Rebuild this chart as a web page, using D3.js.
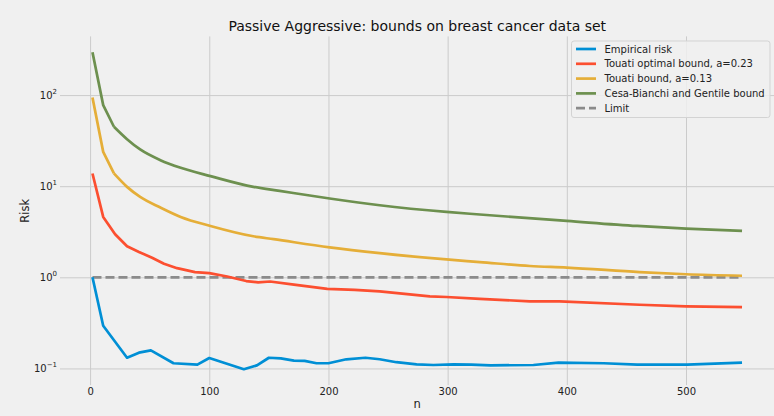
<!DOCTYPE html>
<html>
<head>
<meta charset="utf-8">
<script src="https://cdn.jsdelivr.net/npm/d3@7"></script>
<style>
  body { margin: 0; background: #f0f0f0; }
  text { font-family: "DejaVu Sans", sans-serif; }
</style>
</head>
<body>
<div id="chart"></div>
<script>
// chart data
var nEmpirical = [2, 11, 31, 41, 51, 70, 90, 100, 129, 140, 150, 160, 171, 180, 190, 200, 215, 231, 243, 257, 274, 288, 305, 320, 336, 372, 393, 431, 459, 501, 547];
var empirical = [1.0, 0.294, 0.131, 0.149, 0.158, 0.114, 0.110, 0.130, 0.098, 0.108, 0.131, 0.129, 0.122, 0.121, 0.114, 0.114, 0.126, 0.131, 0.126, 0.117, 0.111, 0.109, 0.111, 0.110, 0.108, 0.109, 0.116, 0.114, 0.110, 0.110, 0.116];

var nOptimal = [2, 11, 21, 31, 41, 52, 62, 73, 88, 100, 115, 131, 141, 151, 171, 199, 222, 243, 285, 299, 327, 369, 394, 461, 500, 547];
var optimal = [13.8, 4.60, 2.97, 2.19, 1.90, 1.64, 1.41, 1.26, 1.14, 1.11, 1.02, 0.91, 0.88, 0.90, 0.83, 0.745, 0.728, 0.70, 0.618, 0.608, 0.58, 0.545, 0.545, 0.50, 0.48, 0.47];

var nBound = [2, 11, 20, 31, 42, 59, 76, 101, 137, 154, 201, 243, 299, 327, 369, 400, 461, 500, 547];
var bound = [94, 23.8, 13.8, 9.83, 7.63, 5.83, 4.60, 3.66, 2.82, 2.62, 2.13, 1.84, 1.57, 1.47, 1.33, 1.28, 1.14, 1.08, 1.04];

var nCesa = [2, 11, 20, 31, 42, 59, 76, 101, 137, 159, 201, 243, 299, 327, 400, 459, 500, 547];
var cesa = [295, 77.6, 44.9, 32.8, 25.3, 19.3, 15.9, 12.9, 9.83, 8.88, 7.33, 6.18, 5.22, 4.89, 4.16, 3.66, 3.43, 3.23];

var nLimit = [2, 547];
var limit = [1, 1];

var xTicks = [0, 100, 200, 300, 400, 500];
var yTickExp = [-1, 0, 1, 2];

var labels = ['Empirical risk', 'Touati optimal bound, a=0.23', 'Touati bound, a=0.13', 'Cesa-Bianchi and Gentile bound', 'Limit'];

// svg sizes
var svgWidth = 774;
var svgHeight = 416;
var plot = { left: 60, right: 774.5, top: 36.4, bottom: 385.1 };

var svg = d3.select('#chart').append('svg')
  .attr('width', svgWidth)
  .attr('height', svgHeight);

svg.append('rect')
  .attr('width', svgWidth)
  .attr('height', svgHeight)
  .attr('fill', '#f0f0f0');

// scales
var xScale = d3.scaleLinear()
  .domain([-25.25, 574.25])
  .range([plot.left, plot.right]);

var yScale = d3.scaleLog()
  .domain([Math.pow(10, -1.183), Math.pow(10, 2.644)])
  .range([plot.bottom, plot.top]);

// grid
var xGrid = svg.append('g')
  .attr('transform', `translate(0, ${plot.bottom})`)
  .call(d3.axisBottom(xScale).tickValues(xTicks).tickSize(-(plot.bottom - plot.top)).tickFormat(''));
var yGrid = svg.append('g')
  .attr('transform', `translate(${plot.left}, 0)`)
  .call(d3.axisLeft(yScale).tickValues(yTickExp.map(e => Math.pow(10, e))).tickSize(-(plot.right - plot.left)).tickFormat(''));
svg.selectAll('.domain').remove();
svg.selectAll('.tick line').attr('stroke', '#cbcbcb').attr('stroke-width', 1);

// tick labels
var xAxis = svg.append('g')
  .attr('transform', `translate(0, ${plot.bottom})`)
  .call(d3.axisBottom(xScale).tickValues(xTicks).tickSize(0).tickPadding(3));
xAxis.select('.domain').remove();
xAxis.selectAll('text').attr('font-size', '10px').attr('fill', '#222').attr('font-family', 'DejaVu Sans');

var yLabels = svg.append('g');
yTickExp.forEach(function(e) {
  var t = yLabels.append('text')
    .attr('x', 57)
    .attr('y', yScale(Math.pow(10, e)) + 3.5)
    .attr('text-anchor', 'end')
    .attr('font-size', '10px')
    .attr('fill', '#222');
  t.append('tspan').text('10');
  t.append('tspan').attr('font-size', '7px').attr('dy', -4.5).text(e < 0 ? '\u2212' + (-e) : e);
});

// axis titles
svg.append('text')
  .attr('x', (plot.left + plot.right) / 2)
  .attr('y', 408)
  .attr('text-anchor', 'middle')
  .attr('font-size', '11.5px')
  .attr('fill', '#222')
  .text('n');

svg.append('text')
  .attr('transform', `translate(29, ${(plot.top + plot.bottom) / 2}) rotate(-90)`)
  .attr('text-anchor', 'middle')
  .attr('font-size', '11.5px')
  .attr('fill', '#222')
  .text('Risk');

svg.append('text')
  .attr('x', (plot.left + plot.right) / 2)
  .attr('y', 31)
  .attr('text-anchor', 'middle')
  .attr('font-size', '14px')
  .attr('fill', '#111')
  .text('Passive Aggressive: bounds on breast cancer data set');

// lines
var series = [
  { xs: nEmpirical, ys: empirical, color: '#008fd5', dash: null, smooth: false },
  { xs: nOptimal, ys: optimal, color: '#fc4f30', dash: null, smooth: false },
  { xs: nBound, ys: bound, color: '#e5ae38', dash: null, smooth: true },
  { xs: nCesa, ys: cesa, color: '#6d904f', dash: null, smooth: true },
  { xs: nLimit, ys: limit, color: '#8b8b8b', dash: '9,4', smooth: false }
];

var straight = d3.line()
  .x(d => xScale(d[0]))
  .y(d => yScale(d[1]));
var curved = d3.line()
  .x(d => xScale(d[0]))
  .y(d => yScale(d[1]))
  .curve(d3.curveMonotoneX);

function drawPath(pts, s, gen) {
  svg.append('path')
    .datum(pts)
    .attr('d', gen)
    .attr('fill', 'none')
    .attr('stroke', s.color)
    .attr('stroke-width', 2.7)
    .attr('stroke-dasharray', s.dash)
    .attr('stroke-linejoin', 'round');
}

// draw limit first so the others sit on top like the picture
[4, 0, 1, 2, 3].forEach(function(i) {
  var s = series[i];
  var pts = s.xs.map((x, j) => [x, s.ys[j]]);
  if (s.smooth) {
    // steep start stays as straight segments, the long tail is smoothed
    drawPath(pts.slice(0, 3), s, straight);
    drawPath(pts.slice(2), s, curved);
  } else {
    drawPath(pts, s, straight);
  }
});

// legend
var legend = svg.append('g');
legend.append('rect')
  .attr('x', 571.5)
  .attr('y', 41)
  .attr('width', 198.5)
  .attr('height', 76.5)
  .attr('rx', 2.5)
  .attr('fill', '#f0f0f0')
  .attr('fill-opacity', 0.85)
  .attr('stroke', '#d3d3d3')
  .attr('stroke-width', 1);

series.forEach(function(s, i) {
  var y = 49 + i * 14.8;
  legend.append('line')
    .attr('x1', 576)
    .attr('x2', 596)
    .attr('y1', y)
    .attr('y2', y)
    .attr('stroke', s.color)
    .attr('stroke-width', 2.7)
    .attr('stroke-dasharray', s.dash);
  legend.append('text')
    .attr('x', 604.5)
    .attr('y', y + 3.5)
    .attr('font-size', '10px')
    .attr('fill', '#222')
    .text(labels[i]);
});
</script>
</body>
</html>
